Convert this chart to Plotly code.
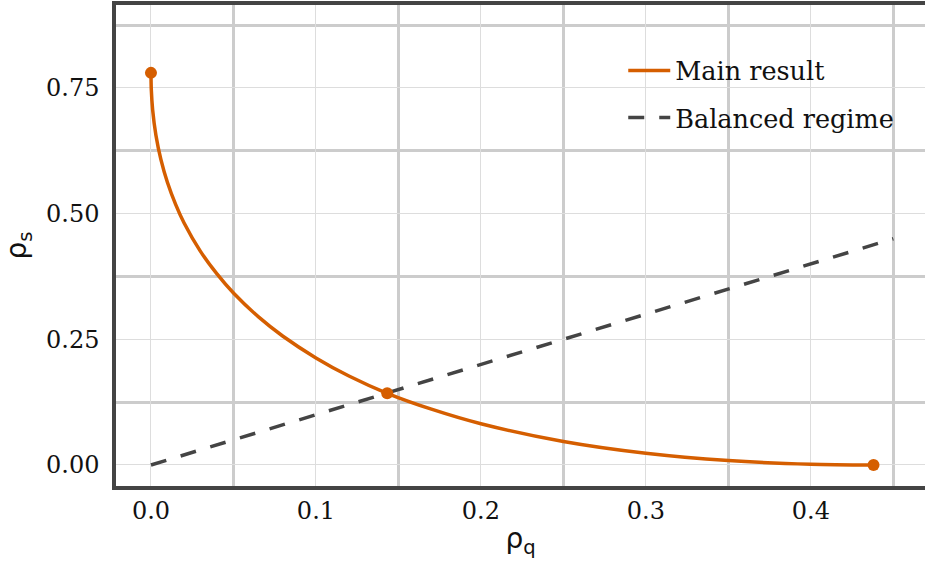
import plotly.graph_objects as go

# Main result curve: rho_s as a function of rho_q
rho_q = [0.0, 0.0002, 0.001, 0.003, 0.006, 0.01, 0.015, 0.02, 0.03, 0.04,
         0.05, 0.065, 0.08, 0.1, 0.12, 0.1432, 0.17, 0.2, 0.25, 0.3,
         0.35, 0.4, 0.438]
rho_s = [0.780, 0.747, 0.707, 0.656, 0.608, 0.562, 0.518, 0.482, 0.425, 0.380,
         0.342, 0.295, 0.256, 0.213, 0.177, 0.1426, 0.111, 0.082, 0.0466, 0.0232,
         0.0088, 0.0016, 0.0]

# Highlighted points on the main curve (start, balanced crossing, end)
key_q = [rho_q[0], rho_q[15], rho_q[-1]]
key_s = [rho_s[0], rho_s[15], rho_s[-1]]

# Balanced regime: rho_s = rho_q
bal_q = [0.0, 0.45]
bal_s = [0.0, 0.45]

x_ticks = [0.0, 0.1, 0.2, 0.3, 0.4]
y_ticks = [0.0, 0.25, 0.5, 0.75]

ORANGE = "#d55e00"
DARK = "#444444"
SERIF = "DejaVu Serif"

fig = go.Figure()
fig.add_trace(go.Scatter(
    x=rho_q, y=rho_s, mode="lines", name="Main result",
    line=dict(color=ORANGE, width=3.5, shape="spline", smoothing=0.8),
    legendgroup="a",
))
fig.add_trace(go.Scatter(
    x=bal_q, y=bal_s, mode="lines", name="Balanced regime",
    line=dict(color=DARK, width=3.5, dash="16px,15px"),
    legendgroup="b",
))
fig.add_trace(go.Scatter(
    x=key_q, y=key_s, mode="markers", showlegend=False,
    marker=dict(color=ORANGE, size=12),
))

# White panel behind the legend, hiding the grid there
fig.add_shape(
    type="rect", xref="paper", yref="paper",
    x0=0.6131, x1=0.9988, y0=0.6944, y1=0.9584,
    fillcolor="white", line=dict(width=0), layer="between",
)

fig.update_layout(
    width=925, height=561,
    margin=dict(l=116, r=0, t=5, b=75),
    paper_bgcolor="white", plot_bgcolor="white",
    font=dict(family=SERIF, size=24, color="#111111"),
    legend=dict(
        x=0.627, y=0.912, xanchor="left", yanchor="top",
        bgcolor="rgba(0,0,0,0)", borderwidth=0,
        font=dict(family=SERIF, size=25.5, color="#111111"),
        tracegroupgap=11, traceorder="grouped", itemwidth=42,
    ),
)

fig.update_xaxes(
    range=[-0.0212, 0.4692],
    tickvals=x_ticks, ticktext=[f"{v:.1f}" for v in x_ticks],
    showgrid=True, gridcolor="#dddddd", gridwidth=1,
    minor=dict(dtick=0.1, tick0=0.05, showgrid=True, gridcolor="#cccccc", gridwidth=2.5),
    showline=True, linecolor=DARK, linewidth=3.5, mirror=True,
    zeroline=False, ticks="", ticklabelstandoff=0,
    title=dict(text="ρ<sub>q</sub>", font=dict(family="DejaVu Sans", size=28), standoff=6),
)
fig.update_yaxes(
    range=[-0.0418, 0.915],
    tickvals=y_ticks, ticktext=[f"{v:.2f}" for v in y_ticks],
    showgrid=True, gridcolor="#dddddd", gridwidth=1,
    minor=dict(dtick=0.25, tick0=0.125, showgrid=True, gridcolor="#cccccc", gridwidth=2.5),
    showline=True, linecolor=DARK, linewidth=3.5, mirror=False,
    zeroline=False, ticks="", ticklabelstandoff=8,
    title=dict(text="ρ<sub>s</sub>", font=dict(family="DejaVu Sans", size=28), standoff=12),
)

fig.write_html("out.html")
